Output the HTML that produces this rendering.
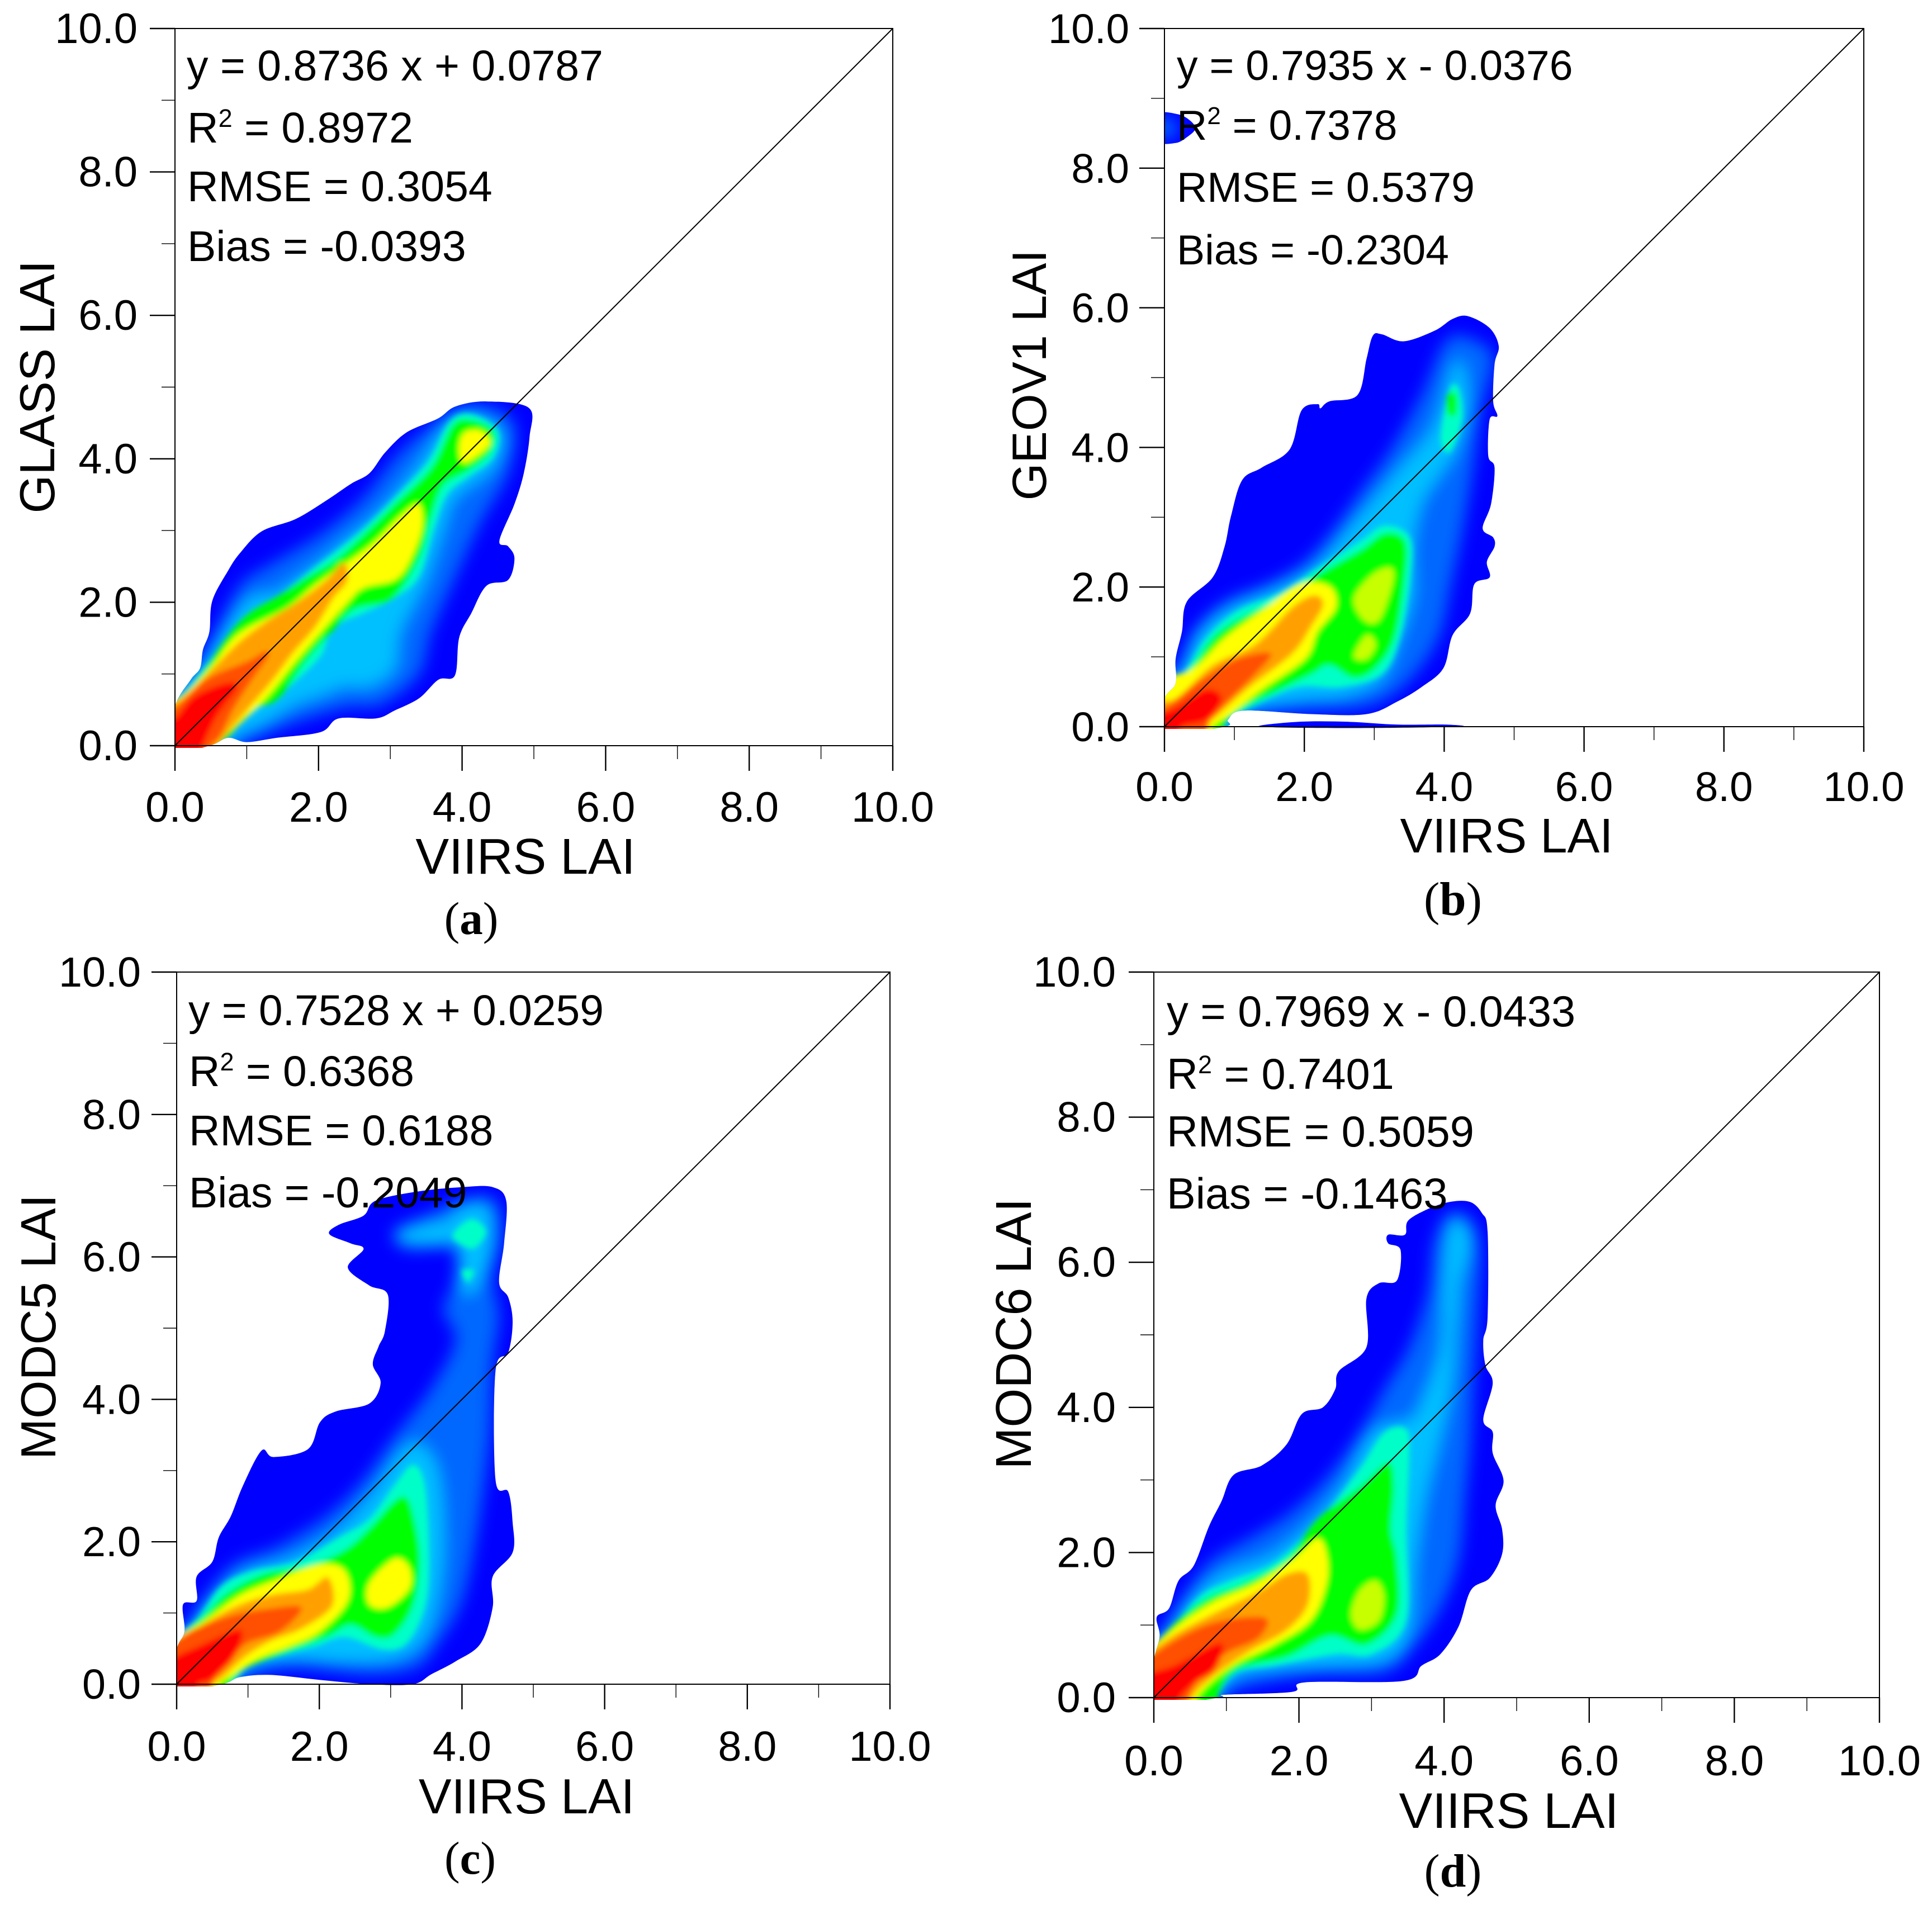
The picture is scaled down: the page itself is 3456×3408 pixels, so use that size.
<!DOCTYPE html>
<html lang="en">
<head>
<meta charset="utf-8">
<title>LAI comparison density scatter plots</title>
<style>
html,body{margin:0;padding:0;background:#fff}
svg{display:block}
text{font-family:"Liberation Sans",Arial,sans-serif;fill:#000}
.cap{font-family:"Liberation Serif","Times New Roman",serif}
</style>
</head>
<body>
<svg id="figure" xmlns="http://www.w3.org/2000/svg" width="3456" height="3408" viewBox="0 0 3456 3408">
<defs>
<filter id="soft-wide" x="-15%" y="-15%" width="130%" height="130%"><feGaussianBlur stdDeviation="14"/></filter>
<filter id="soft-tight" x="-15%" y="-15%" width="130%" height="130%"><feGaussianBlur stdDeviation="5"/></filter>
</defs>
<rect width="3456" height="3408" fill="#fff"/>

<g id="panel-a">
<g id="marks-a"></g>
<g font-size="77">
<text x="334" y="144">y = 0.8736 x + 0.0787</text>
<text x="335" y="255">R<tspan font-size="45" dy="-28">2</tspan><tspan dy="28"> = 0.8972</tspan></text>
<text x="335" y="360">RMSE = 0.3054</text>
<text x="335" y="467">Bias = -0.0393</text>
</g>
<text x="940" y="1563" font-size="89.6" text-anchor="middle">VIIRS LAI</text>
<text transform="translate(97,692) rotate(-90)" font-size="88.6" text-anchor="middle">GLASS LAI</text>
<text class="cap" x="843" y="1671" font-size="83" text-anchor="middle">(<tspan font-weight="bold">a</tspan>)</text>
</g>

<g id="panel-b">
<g id="marks-b"></g>
<g font-size="75.2">
<text x="2105" y="143">y = 0.7935 x - 0.0376</text>
<text x="2105" y="250">R<tspan font-size="44" dy="-28">2</tspan><tspan dy="28"> = 0.7378</tspan></text>
<text x="2105" y="361">RMSE = 0.5379</text>
<text x="2105" y="473">Bias = -0.2304</text>
</g>
<text x="2695" y="1525" font-size="86.8" text-anchor="middle">VIIRS LAI</text>
<text transform="translate(1871,671) rotate(-90)" font-size="85.9" text-anchor="middle">GEOV1 LAI</text>
<text class="cap" x="2599" y="1637" font-size="85" text-anchor="middle">(<tspan font-weight="bold">b</tspan>)</text>
</g>

<g id="panel-c">
<g id="marks-c"></g>
<g font-size="76.8">
<text x="337" y="1834">y = 0.7528 x + 0.0259</text>
<text x="338" y="1943">R<tspan font-size="45" dy="-28">2</tspan><tspan dy="28"> = 0.6368</tspan></text>
<text x="338" y="2049">RMSE = 0.6188</text>
<text x="338" y="2160">Bias = -0.2049</text>
</g>
<text x="942" y="3244" font-size="88" text-anchor="middle">VIIRS LAI</text>
<text transform="translate(99,2374) rotate(-90)" font-size="88" text-anchor="middle">MODC5 LAI</text>
<text class="cap" x="841" y="3352" font-size="83" text-anchor="middle">(<tspan font-weight="bold">c</tspan>)</text>
</g>

<g id="panel-d">
<g id="marks-d"></g>
<g font-size="77.6">
<text x="2087" y="1836">y = 0.7969 x - 0.0433</text>
<text x="2087" y="1948">R<tspan font-size="45" dy="-28">2</tspan><tspan dy="28"> = 0.7401</tspan></text>
<text x="2087" y="2051">RMSE = 0.5059</text>
<text x="2087" y="2162">Bias = -0.1463</text>
</g>
<text x="2699" y="3270" font-size="89.5" text-anchor="middle">VIIRS LAI</text>
<text transform="translate(1844,2386) rotate(-90)" font-size="90" text-anchor="middle">MODC6 LAI</text>
<text class="cap" x="2599" y="3375" font-size="84" text-anchor="middle">(<tspan font-weight="bold">d</tspan>)</text>
</g>
</svg>

<script>
// ---------- axis values ----------
const majorTicks = [0, 2, 4, 6, 8, 10];
const minorTicks = [1, 3, 5, 7, 9];
const tickLabels = ["0.0", "2.0", "4.0", "6.0", "8.0", "10.0"];
const oneToOneLine = [0, 10];

// ---------- contour colours, low to high density ----------
const DEEP = "#0000ff", MED = "#0068ff", LIGHT = "#00c0ff", CYAN = "#00ffc8", GREEN = "#00ff00",
      LIME = "#c8ff00", YELLOW = "#ffff00", ORANGE = "#ffa000", HOT = "#ff5000", RED = "#ff0000";

// ---------- panel a contours, [VIIRS LAI, GLASS LAI] ----------
const aOutline = [[-.1,-.1],[0,.55],[.22,.92],[.35,1.08],[.39,1.34],[.48,1.59],[.52,2.02],[.74,2.44],[.91,2.69],[1.21,2.99],[1.68,3.16],[2.11,3.42],[2.45,3.65],[2.71,3.8],[2.93,4.09],[3.23,4.37],[3.66,4.56],[3.91,4.73],[4.34,4.8],[4.93,4.71],[4.94,4.31],[4.86,3.8],[4.73,3.37],[4.52,2.86],[4.64,2.78],[4.73,2.61],[4.64,2.31],[4.34,2.23],[4.13,1.85],[3.96,1.51],[3.9,.98],[3.67,.92],[3.4,.66],[3.06,.49],[2.8,.38],[2.28,.38],[2.03,.19],[1.42,.11],[1,.05],[.74,.11],[.48,0]];
const aMedium = [[-.2,.5],[.05,.58],[.48,1.42],[.91,2.23],[1.34,2.53],[2.03,2.95],[2.63,3.46],[3.14,4.09],[3.83,4.64],[4.34,4.73],[4.73,4.47],[4.64,3.8],[4.26,3.12],[3.91,2.36],[3.57,1.59],[3.4,1],[2.88,.58],[2.37,.53],[1.68,.32],[1.17,.11],[.82,-.06],[.8,-.2],[-.2,-.2]];
const aLight = [[-.2,.5],[.39,1.17],[1,2.02],[1.42,2.14],[2.03,2.57],[2.37,2.86],[2.88,3.29],[3.4,3.92],[3.83,4.56],[4.17,4.64],[4.56,4.35],[4.43,3.88],[3.91,3.46],[3.74,3.03],[3.48,2.27],[3.14,1.59],[3.06,1.08],[2.71,.83],[2.37,.83],[2.03,.7],[1.68,.58],[1.25,.32],[.82,.11],[.6,-.2],[-.2,-.2]];
const aCyan = [[-.2,.45],[.14,.75],[.48,1.17],[1,1.76],[1.42,2.06],[1.94,2.48],[2.28,2.74],[2.63,3.03],[3.06,3.46],[3.53,3.97],[3.83,4.52],[4.13,4.62],[4.5,4.39],[4.43,4.01],[4.09,3.75],[3.79,3.5],[3.61,3.03],[3.4,2.36],[3.06,2.06],[2.63,1.85],[2.2,1.64],[2.03,1.25],[1.6,.83],[1.17,.53],[.82,.24],[.57,0],[.5,-.2],[-.2,-.2]];
const aGreen = [[-.2,.45],[.05,.6],[.37,.99],[.76,1.56],[1.04,1.85],[1.46,2.1],[1.82,2.34],[2.24,2.6],[2.63,2.95],[3.06,3.37],[3.57,3.88],[3.87,4.47],[4.13,4.54],[4.43,4.39],[4.39,4.09],[4.09,3.84],[3.74,3.63],[3.57,3.2],[3.4,2.61],[3.02,2.05],[2.5,1.9],[2.16,1.56],[1.82,1.17],[1.43,.65],[1.07,.5],[.78,.16],[.6,0],[.55,-.2],[-.2,-.2]];
const aYellow = [[-.2,.5],[.1,.7],[.48,1.07],[.89,1.56],[1.56,1.92],[1.98,2.26],[2.71,2.78],[3.14,3.2],[3.4,3.37],[3.44,3.03],[3.27,2.57],[3.06,2.31],[2.63,2.2],[2.39,1.98],[1.72,1.22],[1.3,.7],[.89,.29],[.68,.11],[.55,-.2],[-.2,-.2]];
const aYellowPeak = [[3.96,4.18],[4.04,4.37],[4.26,4.39],[4.39,4.22],[4.17,4.01],[4,3.95]];
const aOrange = [[-.2,.5],[0,.6],[.2,.75],[.55,1.1],[.9,1.45],[1.3,1.75],[1.7,2],[2.1,2.3],[2.35,2.55],[2.4,2.3],[2.2,2.05],[1.95,1.65],[1.65,1.3],[1.35,.9],[1.05,.55],[.75,.2],[.6,0],[.55,-.2],[-.2,-.2]];
const aHot = [[-.2,.5],[0,.53],[.42,.92],[1.02,1.18],[1.25,1.31],[1.3,1.25],[1.04,.87],[.81,.5],[.63,.13],[.5,0],[.45,-.2],[-.2,-.2]];
const aRed = [[-.2,.35],[0,.38],[.24,.66],[.55,.82],[.8,.88],[.86,.8],[.68,.55],[.55,.35],[.39,0],[.35,-.2],[-.2,-.2]];

// ---------- panel b contours, [VIIRS LAI, GEOV1 LAI] ----------
const bOutline = [[-.1,-.1],[0,.4],[.16,.62],[.16,.97],[.25,1.36],[.32,1.79],[.69,2.14],[.86,2.58],[.95,3.01],[1.11,3.53],[1.39,3.71],[1.79,3.97],[1.96,4.53],[2.19,4.62],[2.23,4.56],[2.36,4.66],[2.76,4.75],[2.89,5.27],[2.98,5.6],[3.11,5.62],[3.42,5.52],[3.86,5.67],[4.12,5.84],[4.34,5.88],[4.65,5.71],[4.78,5.45],[4.72,5.19],[4.7,4.66],[4.76,4.45],[4.65,4.4],[4.63,3.88],[4.72,3.71],[4.67,3.19],[4.55,2.84],[4.7,2.71],[4.72,2.58],[4.61,2.36],[4.65,2.14],[4.43,2.04],[4.37,1.62],[4.12,1.31],[3.99,.84],[3.68,.57],[3.33,.36],[2.89,.18],[2.1,.18],[1.13,.23],[.91,.1],[.86,0]];
const bOutlierBlob = [[-.1,8.77],[.2,8.77],[.38,8.67],[.44,8.56],[.33,8.45],[.16,8.36],[-.1,8.39]];
const bBaseStrip = [[1.37,0],[1.92,.07],[2.63,.07],[3.33,.03],[4.03,.03],[4.19,0],[2.7,-.02]];
const bBlobCore = [[-.1,8.72],[.15,8.68],[.15,8.45],[-.1,8.45]];
const bMedium = [[-.2,.4],[.2,.84],[.42,1.36],[.86,1.79],[1.48,2.05],[1.96,2.32],[2.36,2.75],[2.8,3.36],[3.24,3.97],[3.68,4.75],[4.04,5.54],[4.43,5.54],[4.7,5.27],[4.52,4.49],[4.4,3.62],[4.25,2.75],[4.1,2.05],[3.95,1.36],[3.65,.84],[3.25,.45],[2.8,.27],[2.1,.23],[1.3,.18],[1.04,.1],[.95,-.2],[-.2,-.2]];
const bLight = [[-.2,.55],[.2,.79],[.51,1.36],[.95,1.71],[1.57,1.97],[2.19,2.32],[2.71,2.92],[3.33,3.66],[3.86,4.32],[4.12,5.14],[4.26,5.19],[4.34,4.58],[4.17,3.97],[3.95,3.62],[3.68,3.19],[3.55,2.58],[3.55,1.88],[3.33,1.18],[3.07,.66],[2.54,.44],[2.01,.4],[1.3,.27],[.95,.1],[.9,-.2],[-.2,-.2]];
const bCyan = [[-.2,.45],[.2,.66],[.6,1.27],[1.04,1.66],[1.66,1.92],[2.19,2.27],[2.8,2.66],[3.15,2.88],[3.51,2.71],[3.52,2.14],[3.37,1.27],[3.11,.75],[2.54,.57],[1.92,.57],[1.3,.31],[.86,.05],[.8,-.2],[-.2,-.2]];
const bCyanUpper = [[3.95,4.14],[4.08,4.84],[4.21,4.84],[4.26,4.4],[4.08,3.93]];
const bGreen = [[-.2,.4],[.33,.79],[.69,1.27],[1.04,1.53],[1.66,1.84],[2.19,2.18],[2.8,2.53],[3.15,2.77],[3.44,2.66],[3.44,2.14],[3.29,1.27],[3.02,.84],[2.71,.7],[2.36,.88],[2.1,.75],[1.57,.49],[1.13,.27],[.86,.05],[.8,-.2],[-.2,-.2]];
const bGreenUpper = [[4.05,4.48],[4.17,4.48],[4.17,4.76],[4.05,4.76]];
const bYellow = [[-.2,.55],[.42,.84],[.86,1.27],[1.39,1.66],[1.92,2.04],[2.36,2.01],[2.45,1.71],[2.19,1.36],[2.01,.97],[1.39,.53],[.95,.18],[.69,0],[.6,-.2],[-.2,-.2]];
const bLimeUpper = [[2.71,1.84],[2.98,2.18],[3.24,2.27],[3.26,2.05],[3.07,1.53],[2.85,1.53]];
const bLimeLower = [[2.71,1.01],[2.89,1.31],[3.02,1.18],[2.89,.97]];
const bOrange = [[-.2,.35],[.16,.4],[.69,.88],[1.3,1.18],[1.83,1.71],[2.14,1.88],[2.27,1.75],[2.1,1.44],[1.83,1.05],[1.22,.57],[.78,.18],[.56,0],[.5,-.2],[-.2,-.2]];
const bHot = [[-.2,.25],[0,.27],[.51,.66],[1.04,.97],[1.52,1.05],[1.3,.75],[.86,.31],[.64,.05],[.55,-.2],[-.2,-.2]];
const bRed = [[-.2,.1],[.16,.27],[.6,.53],[.82,.4],[.6,.1],[.25,0],[.2,-.2],[-.2,-.2]];

// ---------- panel c contours, [VIIRS LAI, MODC5 LAI] ----------
const cOutline = [[-.1,-.1],[0,.49],[.11,.74],[.09,1.12],[.28,1.17],[.28,1.51],[.5,1.72],[.59,2.06],[.76,2.36],[.93,2.79],[1.19,3.28],[1.36,3.19],[1.84,3.3],[2.01,3.68],[2.23,3.83],[2.7,3.94],[2.86,4.23],[2.75,4.49],[2.83,4.74],[2.92,4.96],[2.96,5.47],[2.7,5.6],[2.4,5.85],[2.62,6.11],[2.44,6.19],[2.14,6.32],[2.27,6.45],[2.62,6.58],[2.79,6.79],[3.39,6.92],[4,6.98],[4.43,6.98],[4.62,6.79],[4.59,6.19],[4.52,5.64],[4.65,5.43],[4.71,5.09],[4.65,4.66],[4.47,4.4],[4.47,2.87],[4.65,2.7],[4.71,2.27],[4.71,1.85],[4.43,1.51],[4.43,1.08],[4.26,.57],[3.91,.32],[3.57,.14],[3.31,0],[2.7,0],[2.01,.06],[1.32,.13],[.89,.1],[.63,0]];
const cMedium = [[-.2,.5],[.11,.74],[.37,1.17],[.8,1.68],[1.41,1.93],[2.1,2.36],[2.62,2.87],[3.05,3.47],[3.57,4.15],[3.91,4.83],[3.74,5.26],[3.91,5.68],[3.87,6.11],[3.22,6.11],[3.05,6.36],[3.57,6.62],[4.08,6.83],[4.47,6.79],[4.56,6.28],[4.43,5.68],[4.52,5.17],[4.43,4.49],[4.39,3.47],[4.22,2.19],[4,1.17],[3.66,.57],[3.35,.23],[2.7,.14],[1.67,.23],[.98,.14],[.72,-.07],[-.2,-.2]];
const cLight = [[-.2,.5],[.2,.83],[.54,1.25],[.98,1.59],[1.58,1.76],[2.18,2.1],[2.7,2.62],[3.13,3.25],[3.39,3.38],[3.65,3.04],[3.74,2.27],[3.7,1.42],[3.48,.66],[3.05,.36],[2.36,.32],[1.67,.36],[1.15,.27],[.8,.02],[.7,-.2],[-.2,-.2]];
const cLightTop = [[3.83,6.53],[4.17,6.75],[4.39,6.62],[4.39,6.11],[4.17,5.51],[3.96,5.6],[3.96,6.11]];
const cLightBar = [[3.13,6.36],[3.83,6.49],[3.83,6.19],[3.22,6.21]];
const cCyan = [[-.2,.45],[.28,.91],[.63,1.38],[1.06,1.59],[1.67,1.72],[2.27,2.06],[2.7,2.32],[3.05,2.79],[3.31,3.08],[3.48,2.79],[3.54,1.76],[3.48,1.08],[3.22,.57],[2.88,.49],[2.36,.66],[1.93,.53],[1.32,.36],[.98,.23],[.8,.02],[.7,-.2],[-.2,-.2]];
const cCyanTop = [[3.87,6.32],[4.13,6.53],[4.34,6.36],[4.17,6.12],[3.96,6.19]];
const cCyanLow = [[4,5.81],[4.17,5.81],[4.08,5.64]];
const cGreen = [[-.2,.4],[.37,.95],[.72,1.29],[1.23,1.55],[1.84,1.66],[2.36,1.89],[2.7,2.19],[3.05,2.57],[3.22,2.62],[3.32,2.36],[3.41,1.76],[3.32,1.12],[3.05,.7],[2.79,.66],[2.44,.83],[2.1,.66],[1.41,.4],[.98,.23],[.76,.02],[.7,-.2],[-.2,-.2]];
const cYellow = [[-.2,.5],[.37,.87],[.89,1.25],[1.41,1.47],[2.01,1.68],[2.36,1.59],[2.4,1.17],[2.01,.74],[1.58,.53],[1.15,.36],[.8,.14],[.59,0],[.5,-.2],[-.2,-.2]];
const cYellowPeak = [[2.7,1.42],[3.05,1.76],[3.26,1.64],[3.26,1.34],[2.96,1.08],[2.7,1.12]];
const cOrange = [[-.2,.45],[.28,.78],[.8,1.08],[1.32,1.25],[1.84,1.33],[2.12,1.5],[2.18,1.1],[1.75,.78],[1.32,.61],[.98,.4],[.67,.12],[.52,0],[.4,-.2],[-.2,-.2]];
const cHot = [[-.2,.35],[.11,.7],[.72,.95],[1.23,1.05],[1.75,1.08],[1.45,.74],[.98,.57],[.72,.28],[.5,.03],[.4,-.2],[-.2,-.2]];
const cRed = [[-.2,.25],[.35,.55],[.9,.76],[.8,.38],[.5,.08],[.3,0],[.25,-.2],[-.2,-.2]];

// ---------- panel d contours, [VIIRS LAI, MODC6 LAI] ----------
const dOutline = [[-.1,-.1],[0,.52],[.08,.85],[.04,1.11],[.21,1.23],[.34,1.61],[.55,1.82],[.76,2.36],[.93,2.7],[1.1,3.07],[1.49,3.2],[1.83,3.49],[2.04,3.91],[2.33,4],[2.5,4.25],[2.55,4.5],[2.93,4.83],[2.93,5.5],[3.1,5.71],[3.35,5.75],[3.4,6.17],[3.23,6.26],[3.23,6.38],[3.46,6.38],[3.52,6.59],[3.95,6.8],[4.33,6.84],[4.52,6.68],[4.6,6.42],[4.6,5.25],[4.54,4.92],[4.57,4.58],[4.67,4.33],[4.54,3.83],[4.67,3.66],[4.67,3.37],[4.82,2.99],[4.71,2.65],[4.8,2.32],[4.8,1.98],[4.63,1.65],[4.37,1.48],[4.2,.98],[3.95,.6],[3.69,.44],[3.44,.23],[2.08,.21],[1.91,.08],[.98,.04],[.89,0]];
const dMedium = [[-.2,.5],[.13,.9],[.47,1.48],[.81,1.9],[1.4,2.24],[1.91,2.57],[2.42,3.07],[2.84,3.66],[3.18,4.25],[3.52,4.83],[3.78,5.59],[3.86,6.26],[4.07,6.68],[4.37,6.59],[4.5,6.17],[4.46,5.25],[4.41,4.41],[4.37,3.58],[4.29,2.74],[4.2,1.9],[3.95,1.23],[3.61,.73],[3.18,.35],[2.16,.31],[1.23,.14],[.89,-.03],[.8,-.2],[-.2,-.2]];
const dLight = [[-.2,.5],[.17,.94],[.55,1.4],[.98,1.73],[1.57,1.94],[2.08,2.32],[2.59,2.91],[3.01,3.66],[3.52,3.83],[3.69,4.08],[3.95,4.83],[3.99,5.75],[4.07,6.51],[4.29,6.51],[4.35,6.17],[4.2,5.59],[4.12,4.41],[3.95,3.58],[3.74,2.74],[3.61,1.9],[3.52,.9],[3.18,.52],[2.5,.44],[1.66,.39],[1.15,.31],[.89,.02],[.8,-.2],[-.2,-.2]];
const dCyan = [[-.2,.45],[.17,.85],[.64,1.4],[1.06,1.61],[1.66,1.86],[2.25,2.4],[2.84,3.16],[3.18,3.66],[3.48,3.7],[3.52,3.32],[3.48,2.32],[3.48,1.06],[3.01,.6],[2.5,.6],[1.66,.44],[1.15,.35],[.89,.06],[.8,-.2],[-.2,-.2]];
const dGreen = [[-.2,.4],[.25,.98],[.72,1.36],[1.23,1.57],[1.83,1.9],[2.25,2.45],[2.84,2.91],[3.23,3.24],[3.31,2.91],[3.27,2.32],[3.35,1.9],[3.35,1.15],[2.93,.73],[2.42,.85],[1.83,.56],[1.15,.39],[.89,.06],[.8,-.2],[-.2,-.2]];
const dYellow = [[-.2,.5],[.21,.9],[.81,1.31],[1.4,1.57],[1.91,1.9],[2.25,2.19],[2.38,1.98],[2.38,1.57],[2.16,1.06],[1.66,.73],[1.15,.48],[.81,.23],[.59,0],[.5,-.2],[-.2,-.2]];
const dLime = [[2.72,1.15],[2.84,1.48],[3.06,1.61],[3.17,1.4],[3.1,1.06],[2.84,.94]];
const dOrange = [[-.2,.45],[.21,.82],[.81,1.15],[1.4,1.44],[1.83,1.7],[2.12,1.7],[2.12,1.28],[1.83,.93],[1.32,.64],[.89,.35],[.55,.04],[.45,-.2],[-.2,-.2]];
const dHot = [[-.2,.35],[.13,.69],[.81,1.03],[1.53,1.1],[1.44,.82],[.98,.6],[.64,.27],[.47,0],[.4,-.2],[-.2,-.2]];
const dRed = [[-.2,.25],[.3,.45],[.92,.75],[.85,.4],[.55,.19],[.36,0],[.3,-.2],[-.2,-.2]];
const dStrip = [[3.99,5.08],[4.05,6.09],[4.12,6.51],[4.29,6.42],[4.24,6.09],[4.16,5.08]];

const panels = [
  { id: "a", left: 313, right: 1597, top: 51, bottom: 1334, labelRight: 246, labelBase: 1470, fontSize: 76,
    outlines: [aOutline],
    levels: [[MED,aMedium],[LIGHT,aLight],[CYAN,aCyan],[GREEN,aGreen],[YELLOW,aYellow],[YELLOW,aYellowPeak],[ORANGE,aOrange],[HOT,aHot],[RED,aRed]] },
  { id: "b", left: 2083, right: 3334, top: 51, bottom: 1300, labelRight: 2020, labelBase: 1433, fontSize: 74.5,
    outlines: [bOutline, bOutlierBlob, bBaseStrip],
    levels: [[MED,bBlobCore],[MED,bMedium],[LIGHT,bLight],[CYAN,bCyan],[CYAN,bCyanUpper],[GREEN,bGreen],[GREEN,bGreenUpper],[YELLOW,bYellow],[LIME,bLimeUpper],[LIME,bLimeLower],[ORANGE,bOrange],[HOT,bHot],[RED,bRed]] },
  { id: "c", left: 316, right: 1592, top: 1739, bottom: 3013, labelRight: 252, labelBase: 3150, fontSize: 75.5,
    outlines: [cOutline],
    levels: [[MED,cMedium],[LIGHT,cLight],[LIGHT,cLightTop],[LIGHT,cLightBar],[CYAN,cCyan],[CYAN,cCyanTop],[CYAN,cCyanLow],[GREEN,cGreen],[YELLOW,cYellow],[YELLOW,cYellowPeak],[ORANGE,cOrange],[HOT,cHot],[RED,cRed]] },
  { id: "d", left: 2064, right: 3362, top: 1739, bottom: 3037, labelRight: 1996, labelBase: 3176, fontSize: 76,
    outlines: [dOutline],
    levels: [[MED,dMedium],[LIGHT,dLight],[LIGHT,dStrip],[CYAN,dCyan],[GREEN,dGreen],[YELLOW,dYellow],[LIME,dLime],[ORANGE,dOrange],[HOT,dHot],[RED,dRed]] }
];

const NS = "http://www.w3.org/2000/svg";
const defs = document.querySelector("#figure defs");

function make(tag, attrs, parent) {
  const el = document.createElementNS(NS, tag);
  for (const k in attrs) el.setAttribute(k, attrs[k]);
  parent.appendChild(el);
  return el;
}

panels.forEach(function (p) {
  const root = document.getElementById("marks-" + p.id);
  const sx = function (v) { return p.left + (v / 10) * (p.right - p.left); };
  const sy = function (v) { return p.bottom - (v / 10) * (p.bottom - p.top); };
  // closed smooth curve through contour vertices
  const toPath = function (pts) {
    const q = pts.map(function (d) { return [sx(d[0]), sy(d[1])]; });
    const n = q.length;
    let s = "M" + q[0][0].toFixed(1) + " " + q[0][1].toFixed(1);
    for (let i = 0; i < n; i++) {
      const a = q[(i - 1 + n) % n], b = q[i], c = q[(i + 1) % n], e = q[(i + 2) % n];
      s += "C" + (b[0] + (c[0] - a[0]) / 6).toFixed(1) + " " + (b[1] + (c[1] - a[1]) / 6).toFixed(1) +
           " " + (c[0] - (e[0] - b[0]) / 6).toFixed(1) + " " + (c[1] - (e[1] - b[1]) / 6).toFixed(1) +
           " " + c[0].toFixed(1) + " " + c[1].toFixed(1);
    }
    return s + "Z";
  };

  // plot-area clip and density footprint clip
  const areaClip = make("clipPath", { id: "area-" + p.id }, defs);
  make("rect", { x: p.left, y: p.top, width: p.right - p.left, height: p.bottom - p.top + 4 }, areaClip);
  const clip = make("clipPath", { id: "clip-" + p.id }, defs);

  const area = make("g", { "clip-path": "url(#area-" + p.id + ")" }, root);
  
  

  p.outlines.forEach(function (pts) {
    make("path", { d: toPath(pts) }, clip);
    const base = make("path", { d: toPath(pts), fill: DEEP }, area);
    
    
  });

  // nested density levels: broad gradient for low densities, tighter bands for high densities
  const clipped = make("g", { "clip-path": "url(#clip-" + p.id + ")" }, area);
  
  
  const softWide = make("g", { filter: "url(#soft-wide)" }, clipped);
  const softTight = make("g", { filter: "url(#soft-tight)" }, clipped);
  p.levels.forEach(function (lvl) {
    const target = (lvl[0] === MED || lvl[0] === LIGHT) ? softWide : softTight;
    const poly = make("path", { d: toPath(lvl[1]), fill: lvl[0] }, target);
    
    
  });

  // 1:1 reference line
  const diag = make("line", { x1: sx(oneToOneLine[0]), y1: sy(oneToOneLine[0]), x2: sx(oneToOneLine[1]), y2: sy(oneToOneLine[1]), stroke: "#000", "stroke-width": 2 }, root);
  
  

  // frame
  const frame = make("rect", { x: p.left, y: p.top, width: p.right - p.left, height: p.bottom - p.top, fill: "none", stroke: "#000", "stroke-width": 2 }, root);
  
  

  // ticks
  majorTicks.forEach(function (t, i) {
    const xt = make("line", { x1: sx(t), y1: p.bottom, x2: sx(t), y2: p.bottom + 45, stroke: "#000", "stroke-width": 2.4 }, root);
    
    
    const yt = make("line", { x1: p.left - 45, y1: sy(t), x2: p.left, y2: sy(t), stroke: "#000", "stroke-width": 2.4 }, root);
    
    
    const xl = make("text", { x: sx(t), y: p.labelBase, "font-size": p.fontSize, "text-anchor": "middle" }, root);
    xl.textContent = tickLabels[i];
    
    
    const yl = make("text", { x: p.labelRight, y: sy(t) + 26, "font-size": p.fontSize, "text-anchor": "end" }, root);
    yl.textContent = tickLabels[i];
    
    
  });
  minorTicks.forEach(function (t) {
    const xm = make("line", { x1: sx(t), y1: p.bottom, x2: sx(t), y2: p.bottom + 24, stroke: "#000", "stroke-width": 1.4 }, root);
    
    
    const ym = make("line", { x1: p.left - 24, y1: sy(t), x2: p.left, y2: sy(t), stroke: "#000", "stroke-width": 1.4 }, root);
    
    
  });
});
</script>
</body>
</html>
